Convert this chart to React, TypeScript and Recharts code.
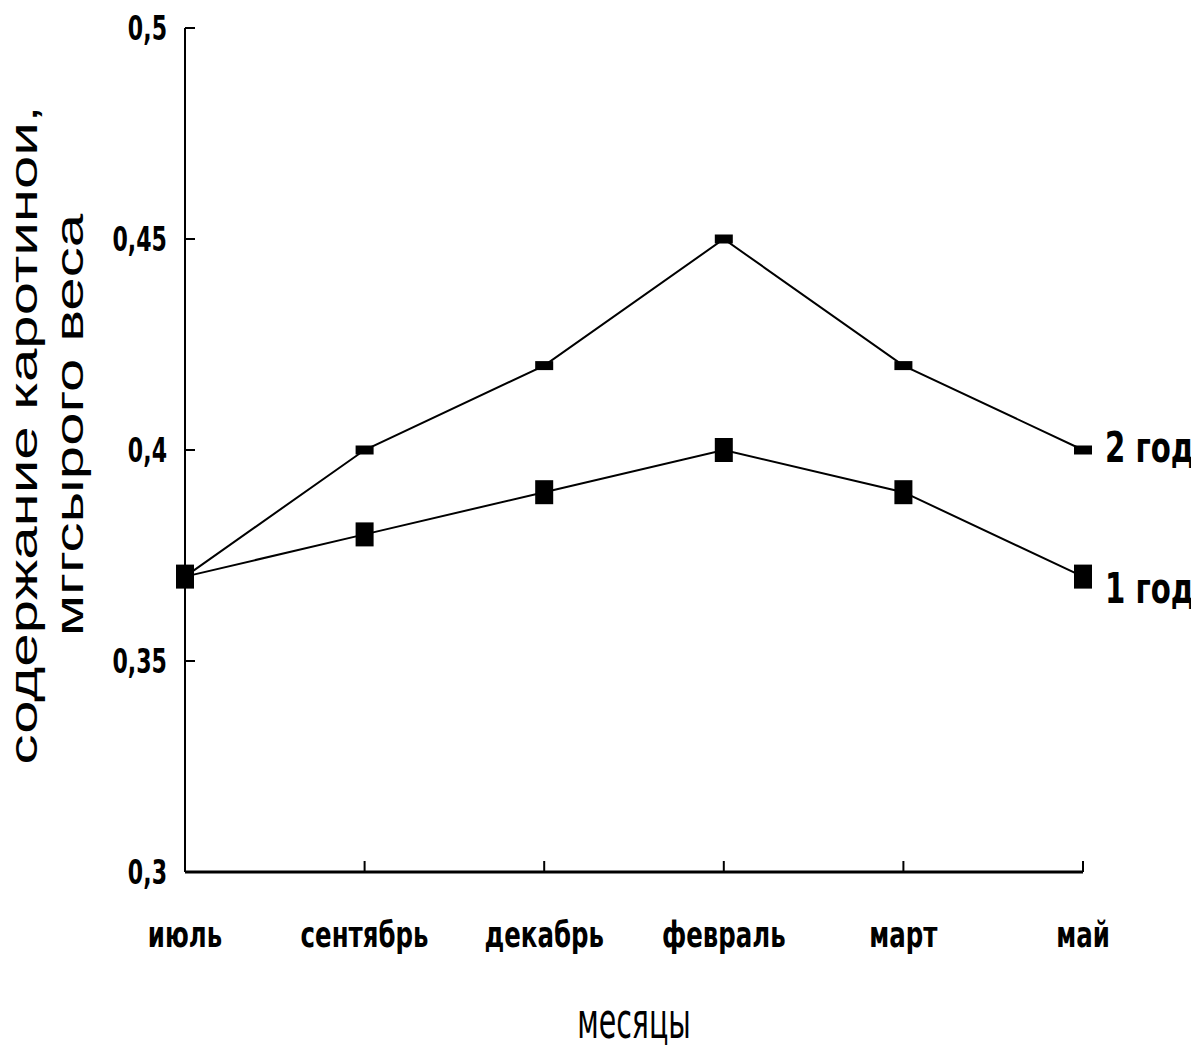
import { Line, LineChart, XAxis, YAxis } from "recharts";

const months = ["июль", "сентябрь", "декабрь", "февраль", "март", "май"];
const year1 = [0.37, 0.38, 0.39, 0.4, 0.39, 0.37];
const year2 = [0.37, 0.4, 0.42, 0.45, 0.42, 0.4];
const seriesNames = ["1 год", "2 год"];
const yTicks = [0.3, 0.35, 0.4, 0.45, 0.5];
const yTitle = ["содержание каротинои,", "мггсырого веса"];
const xTitle = "месяцы";

const data = months.map((m, i) => ({ month: m, y1: year1[i], y2: year2[i] }));

const boldFont = { fontFamily: "DejaVu Sans", fontWeight: 700 };

function XTick({ x, y, payload, index }: any) {
  return (
    <g>
      {index > 0 && <line x1={x} y1={y} x2={x} y2={y - 11} stroke="#000" strokeWidth={2} />}
      <text
        transform={`translate(${x},${y + 75}) scale(0.68,1)`}
        textAnchor="middle"
        fontSize={36}
        fill="#000"
        {...boldFont}
      >
        {payload.value}
      </text>
    </g>
  );
}

function YTick({ x, y, payload }: any) {
  const isBottom = payload.value === 0.3;
  return (
    <g>
      {!isBottom && <line x1={x} y1={y} x2={x + 10} y2={y} stroke="#000" strokeWidth={2} />}
      <text
        transform={`translate(${x - 18},${y + 12}) scale(0.65,1)`}
        textAnchor="end"
        fontSize={34}
        fill="#000"
        {...boldFont}
      >
        {String(payload.value).replace(".", ",")}
      </text>
    </g>
  );
}

function makeDot(h: number, name: string, labelDy: number) {
  return (props: any) => {
    const { cx, cy, index } = props;
    return (
      <g key={`${name}-${index}`}>
        <rect x={cx - 9} y={cy - h / 2} width={18} height={h} fill="#000" />
        {index === months.length - 1 && (
          <text
            transform={`translate(${cx + 22},${cy + labelDy}) scale(0.68,1)`}
            fontSize={43}
            fill="#000"
            {...boldFont}
          >
            {name}
          </text>
        )}
      </g>
    );
  };
}

function YTitle() {
  return (
    <g fill="#000" fontFamily="Liberation Sans, Arial" fontSize={38}>
      <text transform="translate(37,435) scale(1,1.58) rotate(-90)" textAnchor="middle">
        {yTitle[0]}
      </text>
      <text transform="translate(83,425) scale(1,1.58) rotate(-90)" textAnchor="middle">
        {yTitle[1]}
      </text>
    </g>
  );
}

function XTitle() {
  return (
    <text
      transform="translate(634,1038) scale(0.57,1)"
      textAnchor="middle"
      fontFamily="DejaVu Sans"
      fontSize={50}
      fill="#000"
    >
      {xTitle}
    </text>
  );
}

export default function App() {
  return (
    <div style={{ position: "fixed", left: 0, top: 0, background: "#fff" }}>
      <LineChart
        width={1191}
        height={1048}
        data={data}
        margin={{ top: 28, right: 108, bottom: 0, left: 0 }}
      >
        <XAxis
          dataKey="month"
          height={176}
          tickSize={0}
          tickMargin={0}
          tickLine={false}
          axisLine={{ stroke: "#000", strokeWidth: 3 }}
          tick={<XTick />}
          interval={0}
          label={<XTitle />}
        />
        <YAxis
          width={185}
          domain={[0.3, 0.5]}
          ticks={yTicks}
          tickSize={0}
          tickMargin={0}
          tickLine={false}
          axisLine={{ stroke: "#000", strokeWidth: 2 }}
          tick={<YTick />}
          interval={0}
          label={<YTitle />}
        />
        <Line
          dataKey="y2"
          stroke="#000"
          strokeWidth={2}
          dot={makeDot(9, seriesNames[1], 12)}
          activeDot={false}
          isAnimationActive={false}
        />
        <Line
          dataKey="y1"
          stroke="#000"
          strokeWidth={2}
          dot={makeDot(24, seriesNames[0], 26)}
          activeDot={false}
          isAnimationActive={false}
        />
      </LineChart>
    </div>
  );
}
